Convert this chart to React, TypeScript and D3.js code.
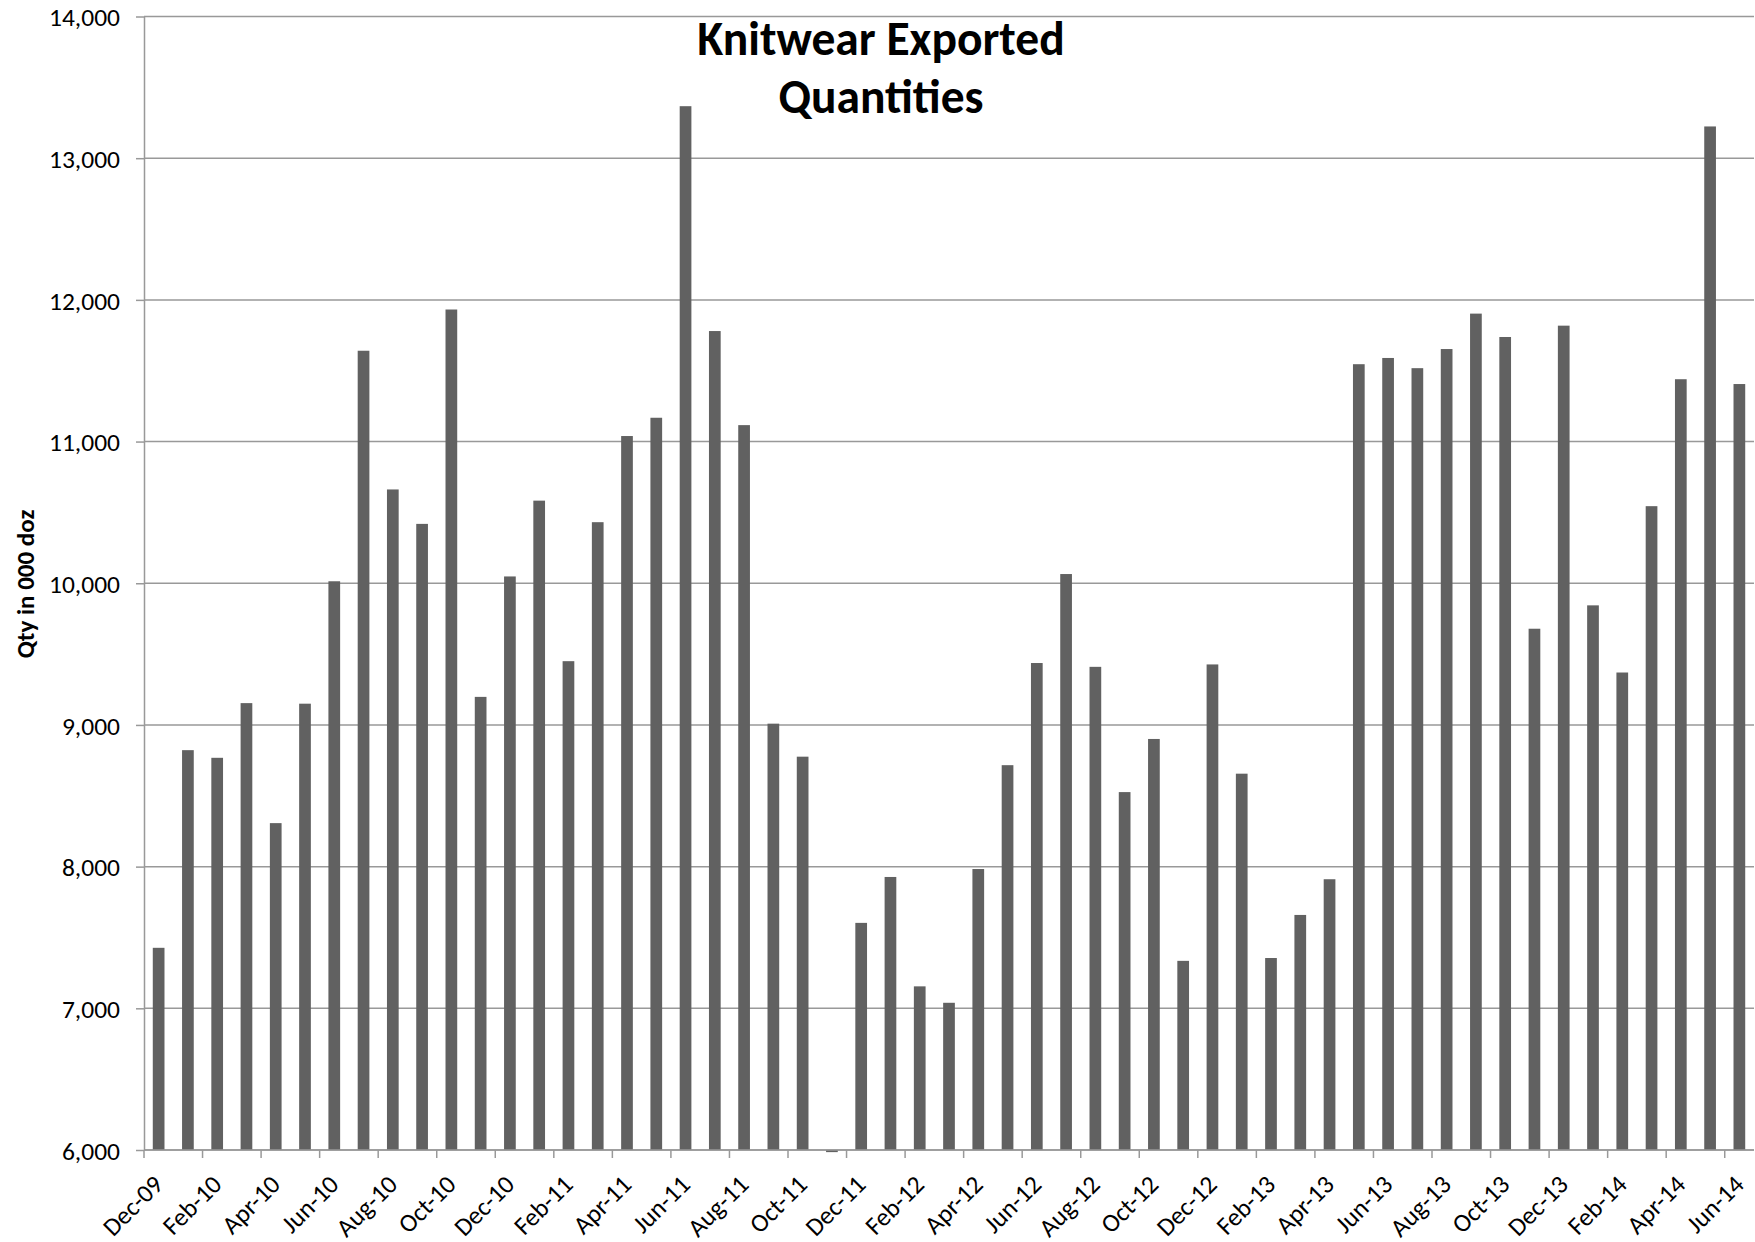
import React, { useEffect, useRef } from "react";
import * as d3 from "d3";

const months: string[] = [
  "Dec-09",
  "Jan-10", "Feb-10", "Mar-10", "Apr-10", "May-10", "Jun-10", "Jul-10", "Aug-10", "Sep-10", "Oct-10", "Nov-10", "Dec-10",
  "Jan-11", "Feb-11", "Mar-11", "Apr-11", "May-11", "Jun-11", "Jul-11", "Aug-11", "Sep-11", "Oct-11", "Nov-11", "Dec-11",
  "Jan-12", "Feb-12", "Mar-12", "Apr-12", "May-12", "Jun-12", "Jul-12", "Aug-12", "Sep-12", "Oct-12", "Nov-12", "Dec-12",
  "Jan-13", "Feb-13", "Mar-13", "Apr-13", "May-13", "Jun-13", "Jul-13", "Aug-13", "Sep-13", "Oct-13", "Nov-13", "Dec-13",
  "Jan-14", "Feb-14", "Mar-14", "Apr-14", "May-14", "Jun-14",
];

const quantities: number[] = [
  7427,
  8822, 8768, 9154, 8307, 9150, 10014, 11641, 10662, 10419, 11932, 9198, 10048,
  10583, 9450, 10431, 11039, 11168, 13367, 11780, 11116, 9009, 8776, 5985, 7603,
  7927, 7155, 7039, 7983, 8716, 9437, 10065, 9410, 8526, 8901, 7335, 9427,
  8656, 7355, 7659, 7911, 11546, 11590, 11518, 11653, 11903, 11738, 9679, 11818,
  9844, 9370, 10544, 11440, 13224, 11406,
];

const yTicks: number[] = [6000, 7000, 8000, 9000, 10000, 11000, 12000, 13000, 14000];
const titleLines: string[] = ["Knitwear Exported", "Quantities"];
const yTitle = "Qty in 000 doz";

const W = 1755;
const H = 1242;
const FONT = "Carlito, Calibri, Lato, 'Open Sans', sans-serif";

export default function App() {
  const ref = useRef<SVGSVGElement>(null);

  useEffect(() => {
    document.body.style.margin = "0";
    const svg = d3.select(ref.current);
    svg.selectAll("*").remove();

    const left = 144;
    const right = 1754;
    const top = 16.5;
    const bottom = 1150;

    const x = d3
      .scaleBand<string>()
      .domain(months)
      .range([left, right])
      .paddingInner(0.6)
      .paddingOuter(0.3);
    const y = d3.scaleLinear().domain([6000, 14000]).range([bottom, top]);

    const gridColor = "#999999";

    // gridlines
    svg
      .append("g")
      .selectAll("line")
      .data(yTicks)
      .join("line")
      .attr("x1", left)
      .attr("x2", right)
      .attr("y1", (d) => y(d))
      .attr("y2", (d) => y(d))
      .attr("stroke", gridColor)
      .attr("stroke-width", 1.5);

    // bars
    const base = y(6000);
    svg
      .append("g")
      .selectAll("rect")
      .data(quantities)
      .join("rect")
      .attr("x", (_, i) => x(months[i])!)
      .attr("width", x.bandwidth())
      .attr("y", (d) => Math.min(y(d), base))
      .attr("height", (d) => Math.abs(base - y(d)))
      .attr("fill", "#616161");

    // y axis
    const yAxis = d3
      .axisLeft(y)
      .tickValues(yTicks)
      .tickSize(8)
      .tickSizeOuter(0)
      .tickPadding(16)
      .tickFormat((d) => d3.format(",")(d as number));
    const gy = svg.append("g").attr("transform", `translate(${left},0)`).call(yAxis);
    gy.select(".domain").attr("stroke", gridColor).attr("stroke-width", 1.5);
    gy.selectAll(".tick line").attr("stroke", gridColor).attr("stroke-width", 1.5);
    gy.selectAll(".tick text")
      .attr("font-family", FONT)
      .attr("font-size", 25.5)
      .attr("fill", "#000")
      .attr("dy", "0.36em");

    // x axis
    const step = x.step();
    const half = (step - x.bandwidth()) / 2;
    const gx = svg.append("g");
    gx.append("line")
      .attr("x1", left)
      .attr("x2", right)
      .attr("y1", bottom)
      .attr("y2", bottom)
      .attr("stroke", gridColor)
      .attr("stroke-width", 1.5);
    const tickMonths = months.filter((_, i) => i % 2 === 0);
    gx.selectAll("line.tick")
      .data(tickMonths)
      .join("line")
      .attr("class", "tick")
      .attr("x1", (d) => x(d)! - half)
      .attr("x2", (d) => x(d)! - half)
      .attr("y1", bottom)
      .attr("y2", bottom + 8)
      .attr("stroke", gridColor)
      .attr("stroke-width", 1.5);
    gx.selectAll("text")
      .data(tickMonths)
      .join("text")
      .attr("font-family", FONT)
      .attr("font-size", 25.5)
      .attr("fill", "#000")
      .attr("text-anchor", "end")
      .attr("transform", (d) => {
        const cx = x(d)! + x.bandwidth() / 2 + 6;
        return `translate(${cx},${bottom + 36}) rotate(-45)`;
      })
      .text((d) => d);

    // title
    const title = svg
      .append("text")
      .attr("font-family", FONT)
      .attr("font-size", 47.5)
      .attr("font-weight", "bold")
      .attr("text-anchor", "middle")
      .attr("fill", "#000");
    titleLines.forEach((t, i) => {
      title
        .append("tspan")
        .attr("x", 881)
        .attr("y", 55 + i * 58)
        .text(t);
    });

    // y title
    svg
      .append("text")
      .attr("font-family", FONT)
      .attr("font-size", 25)
      .attr("font-weight", "bold")
      .attr("text-anchor", "middle")
      .attr("fill", "#000")
      .attr("transform", `translate(34,584) rotate(-90)`)
      .text(yTitle);
  }, []);

  return (
    <svg
      ref={ref}
      width={W}
      height={H}
      viewBox={`0 0 ${W} ${H}`}
      style={{ display: "block", position: "absolute", left: 0, top: 0, background: "#fff" }}
    />
  );
}
